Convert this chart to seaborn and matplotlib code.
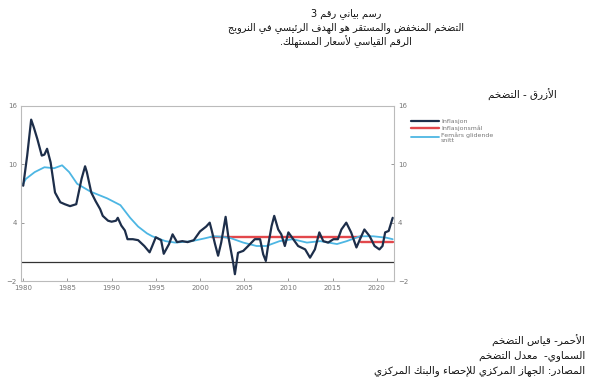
import numpy as np
import pandas as pd
import matplotlib
matplotlib.use("Agg")
import matplotlib.pyplot as plt
import seaborn as sns

# ---------------- data ----------------
infl_years = [1980.0, 1980.45, 1980.9, 1981.2, 1981.6, 1982.1, 1982.4, 1982.7, 1983.1, 1983.6,
              1984.2, 1984.7, 1985.3, 1986.0, 1986.6, 1987.0, 1987.2, 1987.7, 1988.2, 1988.7,
              1989.0, 1989.6, 1990.0, 1990.5, 1990.7, 1991.1, 1991.5, 1991.8, 1992.4, 1993.0,
              1993.7, 1994.3, 1994.6, 1995.0, 1995.6, 1995.9, 1996.5, 1996.9, 1997.4, 1998.0,
              1998.6, 1999.3, 2000.0, 2000.7, 2001.1, 2001.3, 2001.7, 2002.05, 2002.4, 2002.9,
              2003.2, 2003.75, 2003.95, 2004.3, 2004.9, 2005.45, 2006.2, 2006.8, 2007.15, 2007.45,
              2007.7, 2008.1, 2008.4, 2008.85, 2009.2, 2009.6, 2010.0, 2010.55, 2011.1, 2011.9,
              2012.45, 2013.0, 2013.5, 2013.95, 2014.5, 2015.1, 2015.6, 2016.0, 2016.55, 2017.1,
              2017.7, 2018.25, 2018.6, 2019.2, 2019.75, 2020.3, 2020.65, 2020.95, 2021.35, 2021.8]
infl_values = [7.8, 10.9, 14.6, 13.8, 12.6, 10.9, 11.0, 11.6, 10.2, 7.1,
               6.1, 5.9, 5.7, 5.9, 8.5, 9.8, 9.2, 7.1, 6.2, 5.4,
               4.7, 4.2, 4.1, 4.2, 4.5, 3.7, 3.2, 2.3, 2.3, 2.2,
               1.6, 0.95, 1.6, 2.5, 2.2, 0.8, 1.8, 2.8, 2.0, 2.1,
               2.0, 2.2, 3.1, 3.6, 4.0, 3.3, 1.8, 0.6, 1.95, 4.6,
               2.6, -0.1, -1.3, 0.9, 1.1, 1.6, 2.3, 2.3, 0.75, 0.06,
               1.6, 3.65, 4.7, 3.3, 2.8, 1.6, 3.0, 2.3, 1.6, 1.25,
               0.4, 1.25, 3.0, 2.1, 1.95, 2.3, 2.3, 3.3, 4.0, 3.0,
               1.45, 2.6, 3.3, 2.6, 1.6, 1.25, 1.6, 3.0, 3.15, 4.5]

avg_years = [1980.0, 1980.3, 1981.3, 1982.4, 1983.5, 1984.4, 1985.2, 1986.1, 1987.6, 1989.5,
             1991.0, 1992.1, 1993.0, 1994.0, 1994.6, 1996.1, 1997.2, 1999.1, 2000.6, 2001.5,
             2002.5, 2003.5, 2004.9, 2006.4, 2007.5, 2009.0, 2010.5, 2012.1, 2013.6, 2015.5,
             2016.6, 2018.1, 2019.6, 2021.1, 2021.8]
avg_values = [8.0, 8.5, 9.2, 9.7, 9.6, 9.9, 9.2, 8.0, 7.2, 6.5,
              5.8, 4.5, 3.6, 2.9, 2.6, 2.1, 1.95, 2.1, 2.4, 2.6,
              2.55, 2.4, 1.95, 1.6, 1.6, 2.1, 2.3, 1.95, 2.1, 1.8,
              2.1, 2.6, 2.6, 2.45, 2.3]

target_years = [2001.2, 2018.2, 2018.2, 2021.8]
target_values = [2.5, 2.5, 2.0, 2.0]
target_segment = [1, 1, 2, 2]

x_ticks = [1980, 1985, 1990, 1995, 2000, 2005, 2010, 2015, 2020]
y_ticks = [-2, 4, 10, 16]

legend_labels = ["Inflasjon", "Inflasjonsmål", "Femårs glidende\nsnitt"]

title_lines = ["رسم بياني رقم 3",
               "التضخم المنخفض والمستقر هو الهدف الرئيسي في النرويج",
               "الرقم القياسي لأسعار المستهلك."]
side_note = "الأزرق - التضخم"
bottom_lines = ["الأحمر- قياس التضخم",
                "السماوي-  معدل التضخم",
                "المصادر: الجهاز المركزي للإحصاء والبنك المركزي"]

# ---------------- Arabic shaping (presentation forms) ----------------
_FORMS = {
    'ء': (0xFE80, None, None, None),
    'آ': (0xFE81, 0xFE82, None, None),
    'أ': (0xFE83, 0xFE84, None, None),
    'ؤ': (0xFE85, 0xFE86, None, None),
    'إ': (0xFE87, 0xFE88, None, None),
    'ئ': (0xFE89, 0xFE8A, 0xFE8B, 0xFE8C),
    'ا': (0xFE8D, 0xFE8E, None, None),
    'ب': (0xFE8F, 0xFE90, 0xFE91, 0xFE92),
    'ة': (0xFE93, 0xFE94, None, None),
    'ت': (0xFE95, 0xFE96, 0xFE97, 0xFE98),
    'ث': (0xFE99, 0xFE9A, 0xFE9B, 0xFE9C),
    'ج': (0xFE9D, 0xFE9E, 0xFE9F, 0xFEA0),
    'ح': (0xFEA1, 0xFEA2, 0xFEA3, 0xFEA4),
    'خ': (0xFEA5, 0xFEA6, 0xFEA7, 0xFEA8),
    'د': (0xFEA9, 0xFEAA, None, None),
    'ذ': (0xFEAB, 0xFEAC, None, None),
    'ر': (0xFEAD, 0xFEAE, None, None),
    'ز': (0xFEAF, 0xFEB0, None, None),
    'س': (0xFEB1, 0xFEB2, 0xFEB3, 0xFEB4),
    'ش': (0xFEB5, 0xFEB6, 0xFEB7, 0xFEB8),
    'ص': (0xFEB9, 0xFEBA, 0xFEBB, 0xFEBC),
    'ض': (0xFEBD, 0xFEBE, 0xFEBF, 0xFEC0),
    'ط': (0xFEC1, 0xFEC2, 0xFEC3, 0xFEC4),
    'ظ': (0xFEC5, 0xFEC6, 0xFEC7, 0xFEC8),
    'ع': (0xFEC9, 0xFECA, 0xFECB, 0xFECC),
    'غ': (0xFECD, 0xFECE, 0xFECF, 0xFED0),
    'ف': (0xFED1, 0xFED2, 0xFED3, 0xFED4),
    'ق': (0xFED5, 0xFED6, 0xFED7, 0xFED8),
    'ك': (0xFED9, 0xFEDA, 0xFEDB, 0xFEDC),
    'ل': (0xFEDD, 0xFEDE, 0xFEDF, 0xFEE0),
    'م': (0xFEE1, 0xFEE2, 0xFEE3, 0xFEE4),
    'ن': (0xFEE5, 0xFEE6, 0xFEE7, 0xFEE8),
    'ه': (0xFEE9, 0xFEEA, 0xFEEB, 0xFEEC),
    'و': (0xFEED, 0xFEEE, None, None),
    'ى': (0xFEEF, 0xFEF0, None, None),
    'ي': (0xFEF1, 0xFEF2, 0xFEF3, 0xFEF4),
}
_LAMALEF = {'آ': (0xFEF5, 0xFEF6), 'أ': (0xFEF7, 0xFEF8),
            'إ': (0xFEF9, 0xFEFA), 'ا': (0xFEFB, 0xFEFC)}


def _dual(c):
    return c in _FORMS and _FORMS[c][2] is not None


def shape(text):
    out = []
    chars = list(text)
    i = 0
    n = len(chars)
    while i < n:
        c = chars[i]
        if c not in _FORMS:
            out.append(c)
            i += 1
            continue
        prev = chars[i - 1] if i > 0 else ''
        prev_conn = _dual(prev) and not (out and out[-1] in
                                         [chr(v) for pair in _LAMALEF.values() for v in pair])
        if c == 'ل' and i + 1 < n and chars[i + 1] in _LAMALEF:
            iso, fin = _LAMALEF[chars[i + 1]]
            out.append(chr(fin if prev_conn else iso))
            i += 2
            continue
        nxt = chars[i + 1] if i + 1 < n else ''
        next_conn = nxt in _FORMS and _dual(c)
        iso, fin, ini, med = _FORMS[c]
        if prev_conn and next_conn:
            out.append(chr(med))
        elif prev_conn:
            out.append(chr(fin))
        elif next_conn:
            out.append(chr(ini))
        else:
            out.append(chr(iso))
        i += 1
    return ''.join(reversed(out))


# ---------------- figure ----------------
sns.set_theme(style="white")
plt.rcParams['font.family'] = ['DejaVu Sans']

fig = plt.figure(figsize=(6.0, 3.84), dpi=100)
ax = fig.add_axes([21 / 600, 1 - 281 / 384, (394 - 21) / 600, (281 - 106) / 384])

df_infl = pd.DataFrame({"year": infl_years, "value": infl_values})
df_avg = pd.DataFrame({"year": avg_years, "value": avg_values})
df_tgt = pd.DataFrame({"year": target_years, "value": target_values, "seg": target_segment})

ax.axhline(0, color="#333333", lw=0.9, zorder=1)
sns.lineplot(data=df_tgt, x="year", y="value", units="seg", estimator=None,
             color="#E2474B", lw=1.7, ax=ax, zorder=2, label=legend_labels[1])
sns.lineplot(data=df_avg, x="year", y="value", color="#4DB6E3", lw=1.3, ax=ax,
             zorder=3, label=legend_labels[2])
sns.lineplot(data=df_infl, x="year", y="value", color="#1D2E4A", lw=1.6, ax=ax,
             zorder=4, label=legend_labels[0])

ax.set_xlim(1979.75, 2021.95)
ax.set_ylim(-2, 16)
ax.set_xticks(x_ticks)
ax.set_yticks(y_ticks)
ax.set_xlabel("")
ax.set_ylabel("")
ax.tick_params(axis="both", labelsize=5, colors="#888888", length=2, width=0.6,
               direction="in", pad=3, labelcolor="#777777")
ax.tick_params(axis="y", right=True, labelright=True, left=True)
ax.tick_params(axis="x", bottom=True)
for s in ax.spines.values():
    s.set_color("#BBBBBB")
    s.set_linewidth(0.8)

handles, labels = ax.get_legend_handles_labels()
order = [labels.index(l) for l in legend_labels]
ax.legend([handles[k] for k in order], [labels[k] for k in order],
          loc="upper left", bbox_to_anchor=(411 / 600, 1 - 119 / 384),
          bbox_transform=fig.transFigure, frameon=False, fontsize=4.5,
          handlelength=4.5, handletextpad=0.3, labelspacing=0.15,
          labelcolor="#777777", borderaxespad=0, borderpad=0)

# texts
for line, y in zip(title_lines, [14, 28, 42]):
    fig.text(346 / 600, 1 - y / 384, shape(line), ha="center", va="center",
             fontsize=7.0, color="#111111")
fig.text(557 / 600, 1 - 95 / 384, shape(side_note), ha="right", va="center",
         fontsize=7.5, color="#111111")
for line, y in zip(bottom_lines, [341, 356, 371]):
    fig.text(585 / 600, 1 - y / 384, shape(line), ha="right", va="center",
             fontsize=7.5, color="#111111")

fig.savefig("out.png", dpi=100)
